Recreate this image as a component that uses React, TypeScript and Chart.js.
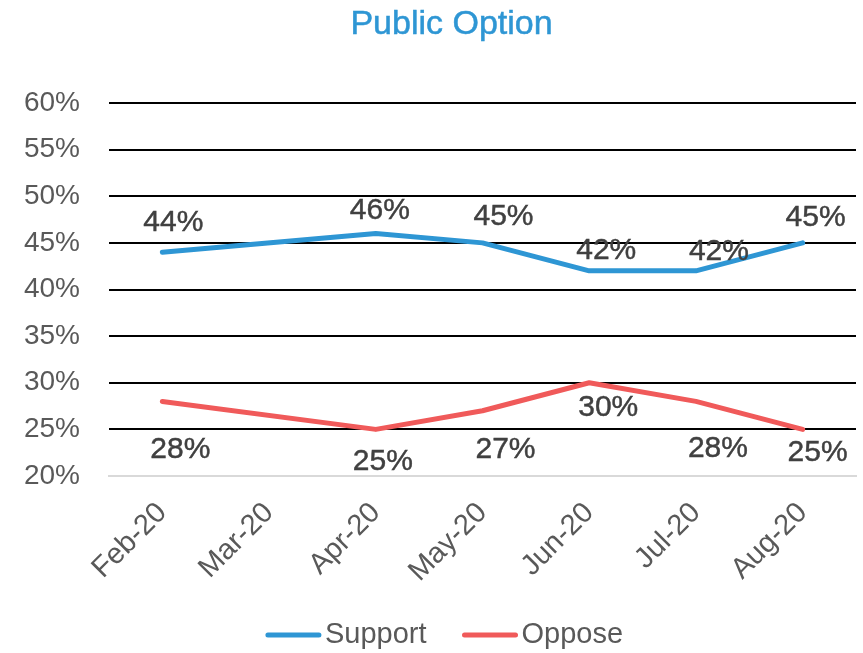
import React, { useEffect, useRef } from "react";
import { Chart, registerables } from "chart.js";

Chart.register(...registerables);

const months = ["Feb-20", "Mar-20", "Apr-20", "May-20", "Jun-20", "Jul-20", "Aug-20"];
const support = [44, null, 46, 45, 42, 42, 45];
const oppose = [28, null, 25, 27, 30, 28, 25];
const yTicks = [20, 25, 30, 35, 40, 45, 50, 55, 60];
const titleText = "Public Option";

// label placement relative to each point (dx, dy in px)
const supportLabelDx = [11, 0, 4, 21, 17, 23, 13];
const supportLabelDy = [-29, 0, -23, -26, -20, -19, -25];
const opposeLabelDx = [18, 0, 7, 23, 19, 22, 15];
const opposeLabelDy = [48, 0, 32, 39, 25, 47, 23];

const FONT = "'Liberation Sans', Arial, sans-serif";
const BLUE = "#2E96D4";
const RED = "#F05A5A";

const dataLabels = {
  id: "dataLabels",
  afterDatasetsDraw(chart: any) {
    const ctx = chart.ctx;
    const offsets = [
      [supportLabelDx, supportLabelDy],
      [opposeLabelDx, opposeLabelDy],
    ];
    ctx.save();
    ctx.font = `30px ${FONT}`;
    ctx.fillStyle = "#404040";
    ctx.strokeStyle = "#404040";
    ctx.lineWidth = 0.45;
    ctx.textAlign = "center";
    ctx.textBaseline = "middle";
    chart.data.datasets.forEach((ds: any, di: number) => {
      const meta = chart.getDatasetMeta(di);
      meta.data.forEach((pt: any, i: number) => {
        const v = ds.data[i];
        if (v === null || v === undefined) return;
        const x = pt.x + offsets[di][0][i];
        const y = pt.y + offsets[di][1][i];
        ctx.fillText(`${v}%`, x, y);
        ctx.strokeText(`${v}%`, x, y);
      });
    });
    ctx.restore();
  },
};

const titleAndLegend = {
  id: "titleAndLegend",
  afterDraw(chart: any) {
    const ctx = chart.ctx;
    ctx.save();
    // title
    ctx.font = `34px ${FONT}`;
    ctx.fillStyle = BLUE;
    ctx.strokeStyle = BLUE;
    ctx.lineWidth = 0.5;
    ctx.textAlign = "center";
    ctx.textBaseline = "middle";
    ctx.fillText(titleText, chart.width / 2 + 20, 25);
    ctx.strokeText(titleText, chart.width / 2 + 20, 25);

    // legend
    ctx.font = `29px ${FONT}`;
    const lineW = 55;
    const gap = 4;
    const itemGap = 36;
    const items = chart.data.datasets.map((ds: any) => ({
      label: ds.label,
      color: ds.borderColor,
      w: lineW + gap + ctx.measureText(ds.label).width,
    }));
    const total = items.reduce((s: number, it: any) => s + it.w, 0) + itemGap * (items.length - 1);
    let x = chart.width / 2 + 13 - total / 2;
    const y = 635;
    items.forEach((it: any) => {
      ctx.strokeStyle = it.color;
      ctx.lineWidth = 5;
      ctx.lineCap = "round";
      ctx.beginPath();
      ctx.moveTo(x + 2, y);
      ctx.lineTo(x + lineW - 2, y);
      ctx.stroke();
      ctx.fillStyle = "#595959";
      ctx.textAlign = "left";
      ctx.fillText(it.label, x + lineW + gap, y);
      x += it.w + itemGap;
    });
    ctx.restore();
  },
};

export default function App() {
  const ref = useRef<HTMLCanvasElement>(null);
  useEffect(() => {
    document.body.style.margin = "0";
    const chart = new Chart(ref.current!, {
      type: "line",
      data: {
        labels: months,
        datasets: [
          {
            label: "Support",
            data: support,
            borderColor: BLUE,
            backgroundColor: BLUE,
            borderWidth: 5,
            pointRadius: 0,
            spanGaps: true,
            borderCapStyle: "round",
            borderJoinStyle: "round",
            tension: 0,
          },
          {
            label: "Oppose",
            data: oppose,
            borderColor: RED,
            backgroundColor: RED,
            borderWidth: 5,
            pointRadius: 0,
            spanGaps: true,
            borderCapStyle: "round",
            borderJoinStyle: "round",
            tension: 0,
          },
        ],
      },
      options: {
        animation: false,
        responsive: false,
        maintainAspectRatio: false,
        layout: { padding: { left: 0, right: 7, top: 103, bottom: 46 } },
        plugins: {
          title: { display: false },
          legend: { display: false },
          tooltip: { enabled: false },
        },
        scales: {
          x: {
            offset: true,
            afterFit(scale: any) {
              scale.height = 131;
            },
            grid: { display: false, drawTicks: false },
            border: { color: "#D9D9D9", width: 2 },
            ticks: {
              color: "#595959",
              font: { family: FONT, size: 29 },
              maxRotation: 45,
              minRotation: 45,
              padding: 20,
            },
          },
          y: {
            min: 20,
            max: 60,
            afterFit(scale: any) {
              scale.width = 109;
            },
            afterBuildTicks(scale: any) {
              scale.ticks = yTicks.map((v) => ({ value: v }));
            },
            grid: {
              drawTicks: false,
              color: (c: any) => (c.tick && c.tick.value === 20 ? "rgba(0,0,0,0)" : "#000000"),
              lineWidth: 2,
            },
            border: { display: false },
            ticks: {
              color: "#595959",
              font: { family: FONT, size: 28 },
              padding: 29,
              callback: (v: any) => `${v}%`,
            },
          },
        },
      },
      plugins: [dataLabels, titleAndLegend],
    } as any);
    return () => chart.destroy();
  }, []);
  return (
    <div style={{ width: 863, height: 653, background: "#fff" }}>
      <canvas ref={ref} width={863} height={653} style={{ display: "block" }} />
    </div>
  );
}
